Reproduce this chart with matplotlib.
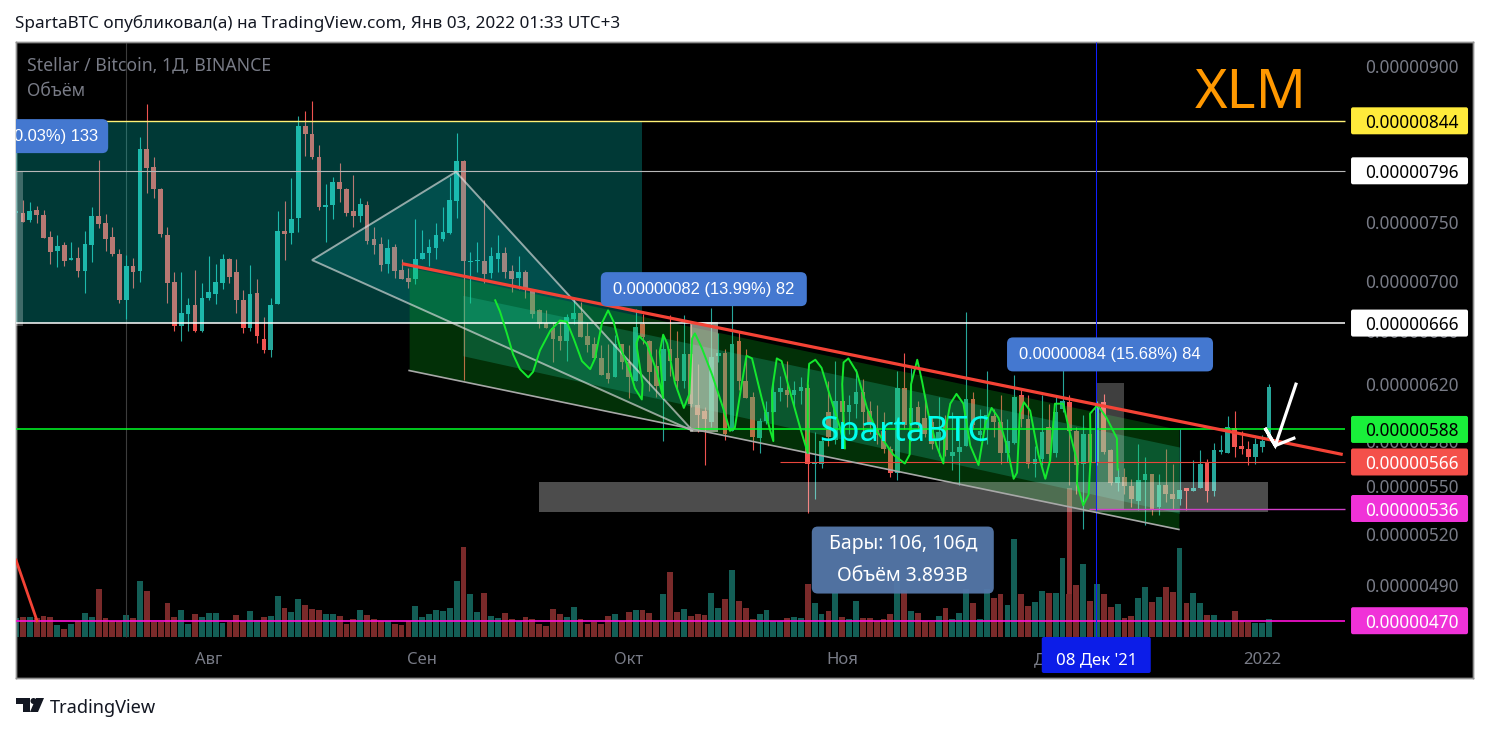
import matplotlib
matplotlib.use("Agg")
import matplotlib.pyplot as plt
from matplotlib.patches import FancyBboxPatch, Polygon, Circle
from matplotlib.transforms import IdentityTransform

plt.rcParams['font.family'] = ['Noto Sans', 'DejaVu Sans']

# candles, prices in satoshi (1e-8 BTC), one bar per day starting 4 Jul 2021
opens = [758, 758, 751, 760, 756, 737, 725, 730, 717, 719, 708, 730, 755, 749, 737, 722, 684, 712, 708, 817,
         800, 779, 738, 699, 664, 673, 680, 660, 686, 689, 698, 718, 707, 684, 662, 690, 654, 645, 681, 742,
         740, 753, 839, 831, 809, 763, 765, 786, 779, 759, 755, 765, 735, 731, 714, 728, 709, 702, 701, 718,
         723, 727, 735, 740, 768, 805, 715, 716, 716, 706, 718, 723, 708, 702, 707, 692, 676, 666, 662, 656,
         652, 669, 674, 656, 650, 639, 628, 625, 650, 636, 622, 665, 652, 633, 622, 646, 639, 622, 642, 605,
         601, 593, 641, 643, 587, 652, 622, 611, 582, 594, 600, 614, 616, 612, 615, 617, 565, 565, 600, 581,
         608, 600, 606, 614, 601, 588, 587, 575, 559, 617, 592, 604, 596, 593, 581, 593, 570, 573, 577, 609,
         584, 588, 597, 593, 572, 579, 612, 595, 565, 568, 590, 572, 602, 607, 587, 565, 585, 566, 607, 574,
         552, 556, 550, 541, 554, 558, 537, 551, 545, 542, 549, 547, 549, 566, 547, 573, 572, 589, 577, 575,
         569, 576, 581]
highs = [767, 769, 767, 764, 760, 742, 738, 732, 732, 728, 742, 763, 806, 757, 745, 726, 721, 719, 828, 861,
         809, 780, 745, 707, 707, 686, 709, 698, 720, 714, 722, 719, 718, 692, 713, 701, 671, 686, 759, 768,
         789, 849, 854, 864, 820, 784, 790, 803, 780, 792, 771, 768, 745, 737, 735, 731, 718, 710, 752, 743,
         735, 749, 763, 790, 832, 806, 724, 732, 769, 728, 738, 728, 713, 720, 709, 692, 677, 676, 667, 667,
         673, 686, 683, 667, 655, 649, 650, 657, 650, 649, 677, 673, 653, 646, 655, 672, 660, 672, 665, 635,
         604, 678, 658, 646, 687, 660, 646, 614, 596, 608, 625, 626, 637, 622, 625, 620, 586, 582, 622, 637,
         620, 612, 631, 624, 608, 605, 600, 577, 630, 643, 632, 608, 612, 597, 611, 598, 600, 596, 675, 614,
         602, 630, 602, 612, 595, 627, 617, 612, 577, 612, 606, 612, 645, 612, 590, 598, 598, 608, 613, 575,
         562, 562, 555, 578, 569, 558, 558, 575, 565, 588, 549, 567, 574, 568, 579, 584, 597, 601, 587, 580,
         582, 584, 620]
lows = [749, 750, 750, 749, 736, 714, 711, 712, 717, 703, 690, 715, 744, 725, 720, 682, 669, 694, 699, 776,
        771, 737, 682, 660, 652, 660, 659, 659, 684, 681, 693, 698, 674, 658, 660, 651, 643, 640, 681, 717,
        731, 741, 810, 807, 760, 732, 752, 767, 755, 745, 750, 731, 722, 708, 706, 702, 701, 694, 697, 718,
        712, 718, 733, 739, 753, 623, 682, 707, 698, 702, 707, 702, 691, 693, 686, 670, 662, 662, 636, 645,
        637, 665, 655, 644, 639, 627, 621, 625, 631, 610, 622, 650, 615, 611, 580, 626, 615, 617, 604, 586,
        564, 590, 636, 581, 587, 616, 610, 574, 572, 592, 600, 608, 604, 604, 606, 533, 542, 562, 577, 578,
        578, 585, 596, 587, 585, 578, 572, 556, 554, 588, 580, 587, 583, 575, 570, 570, 561, 551, 577, 588,
        580, 578, 583, 565, 566, 578, 590, 562, 556, 564, 567, 569, 600, 551, 545, 523, 564, 564, 571, 551,
        547, 545, 537, 535, 526, 532, 532, 540, 536, 538, 535, 547, 549, 540, 544, 571, 572, 569, 571, 564,
        565, 573, 581]
closes = [759, 750, 759, 756, 736, 724, 729, 716, 719, 708, 731, 755, 748, 735, 722, 684, 712, 707, 817, 799,
          779, 739, 698, 664, 674, 680, 660, 686, 691, 699, 718, 703, 684, 662, 689, 656, 645, 680, 742, 739,
          752, 839, 831, 809, 763, 765, 786, 779, 758, 755, 766, 733, 730, 713, 727, 708, 701, 699, 718, 723,
          728, 738, 741, 769, 805, 716, 716, 717, 705, 720, 723, 707, 701, 707, 692, 673, 665, 662, 654, 652,
          671, 674, 655, 649, 639, 627, 624, 650, 636, 625, 663, 655, 629, 619, 646, 637, 622, 642, 606, 598,
          595, 640, 643, 585, 650, 622, 610, 583, 594, 600, 614, 617, 612, 616, 618, 565, 566, 580, 583, 608,
          600, 605, 614, 600, 591, 584, 575, 559, 617, 591, 603, 591, 585, 578, 586, 574, 573, 576, 609, 591,
          587, 598, 593, 572, 580, 611, 595, 565, 568, 586, 571, 600, 608, 587, 564, 585, 566, 606, 573, 552,
          556, 550, 542, 554, 558, 536, 551, 545, 542, 548, 547, 549, 565, 547, 574, 574, 590, 576, 575, 569,
          578, 580, 618]
volumes = [19, 20, 20, 19, 21, 20, 12, 8, 13, 16, 24, 20, 48, 19, 16, 16, 22, 19, 56, 46,
           15, 15, 34, 20, 27, 13, 23, 20, 24, 24, 14, 15, 22, 16, 26, 17, 20, 21, 41, 29,
           25, 38, 32, 28, 27, 23, 23, 21, 13, 18, 27, 22, 18, 16, 16, 13, 12, 16, 31, 20,
           23, 27, 26, 29, 56, 90, 43, 25, 44, 21, 19, 24, 18, 16, 20, 18, 13, 11, 28, 23,
           20, 30, 18, 13, 15, 13, 21, 23, 16, 25, 27, 27, 24, 16, 43, 65, 25, 28, 21, 23,
           22, 44, 29, 38, 67, 36, 29, 18, 23, 27, 16, 16, 19, 20, 19, 53, 34, 23, 26, 44,
           20, 18, 36, 19, 19, 16, 18, 23, 57, 47, 26, 24, 16, 15, 21, 29, 18, 24, 48, 34,
           18, 48, 39, 43, 32, 98, 43, 31, 35, 46, 44, 44, 79, 43, 52, 73, 36, 53, 43, 30,
           33, 19, 21, 39, 50, 35, 40, 50, 45, 89, 34, 44, 34, 22, 22, 16, 16, 26, 16, 15,
           14, 14, 18]
volume_dirs = ("trtrrrtrtr" "ttrrrrtrtr" "rrrrttrttt" "trrrttrttr" "ttrrrttrrr"
               "trrrtrrrtt" "tttttrttrt" "trrtrrrrrr" "ttrrrrrtrr" "trrrtrrtrr"
               "rttrtrrrtt" "ttrttrttrt" "rttrrrrrtr" "trrrtrtttr" "ttrrttrrtt"
               "rttrrtrtrr" "trrttrtrrt" "rttrtttrrr" "ttt")

# indicator brush drawn over the channel: bar position, price
wave_x = [69.6, 70.3, 71.3, 72.2, 73.2, 74.4, 75.1, 76.1, 77.6, 79.0, 80.0, 81.0, 82.2, 83.4, 84.1, 85.1, 86.0, 86.8,
          87.7, 89.2, 89.9, 90.9, 91.0, 90.1, 90.5, 91.6, 93.1, 94.0, 93.5, 94.0, 94.6, 95.7, 97.0, 97.8, 98.2, 98.6,
          99.6, 101.1, 102.7, 103.7, 104.4, 105.4, 106.1, 106.9, 108.3, 109.5, 110.0, 109.8, 110.5, 111.2, 112.4,
          113.9, 115.0, 115.0, 115.2, 116.1, 117.0, 118.2, 119.7, 120.4, 120.0, 120.2, 120.9, 122.1, 123.6, 125.0,
          126.5, 127.4, 129.1, 129.8, 130.0, 130.9, 131.6, 132.5, 133.7, 134.7, 134.9, 135.7, 136.6, 137.6, 138.6,
          139.8, 140.8, 141.7, 142.7, 143.9, 144.9, 145.4, 145.8, 146.4, 147.3, 148.5, 149.5, 150.2, 150.9, 152.1,
          152.9, 154.2, 154.1, 155.0, 155.8, 156.1, 156.0, 157.1, 158.4, 159.9, 160.0]
wave_p = [684, 675, 658, 642, 631, 625, 629, 645, 660, 668, 667, 654, 637, 631, 639, 666, 676, 667,
          648, 629, 617, 609, 620, 650, 656, 650, 629, 610, 644, 657, 650, 621, 603, 613, 654, 658,
          647, 627, 603, 587, 589, 620, 641, 639, 610, 588, 580, 615, 639, 637, 615,
          589, 572, 620, 635, 638, 632, 612, 589, 575, 620, 636, 639, 629, 603, 587,
          577, 571, 565, 571, 620, 638, 622, 599, 577, 565, 585, 606, 613, 606, 577,
          564, 592, 603, 596, 577, 555, 559, 599, 607, 601, 571, 555, 567, 606, 606,
          589, 565, 552, 538, 545, 571, 599, 605, 596, 582, 561]

# horizontal levels: price, first bar, colour, width
level_prices = [844, 796, 666, 588, 566, 536, 470]
level_starts = [-1, -1, -1, -1, 111, 155.8, -1]
level_colors = ['#fff176', '#b8b8b8', '#ffffff', '#00ff26', '#e8463c', '#d040c8', '#ff10d8']
level_widths = [1.0, 0.8, 1.1, 1.1, 0.8, 1.0, 1.2]
label_faces = ['#ffeb3b', '#ffffff', '#ffffff', '#19f03a', '#f4504a', '#f032d8', '#f032d8']
label_texts = ['black', 'black', 'black', 'black', 'white', 'white', 'white']

scale_ticks = [900, 750, 700, 660, 620, 580, 550, 520, 490]
month_pos = [28, 59, 89, 120, 150, 181]
month_names = ['Авг', 'Сен', 'Окт', 'Ноя', 'Дек', '2022']

# geometry of the drawings, in bar position and price
trend_x, trend_p = [56.06, 192.7], [714, 571]
corner_x, corner_p = [0, 3.05], [504.6, 470]
box_x, box_p = [-1, 90.9], [844, 666]
triangle_x, triangle_p = [43.0, 63.9, 98.3], [717, 795, 587]
channel_x, channel_top, channel_bot = [57.1, 168.9], [711, 588], [630, 523]
band_x, band_top, band_bot = [64.9, 169.0], [688, 576], [641, 533]
arrow_x, arrow_p = [185.9, 182.9, 181.4, 182.9, 185.6], [620, 577, 589, 577, 582]

PX_STEP = 6.885
LEFT, RIGHT, TOP, BOTTOM = 16, 1473, 42, 678
W, H = 1489, 732
UP, DOWN = '#26a69a', '#ef5350'

fig = plt.figure(figsize=(W / 100, H / 100), dpi=100, facecolor='white')
pos = [LEFT / W, 1 - BOTTOM / H, (RIGHT - LEFT) / W, (BOTTOM - TOP) / H]
vol_ax = fig.add_axes(pos, zorder=0, facecolor='black')
ax = fig.add_axes(pos, zorder=1)
ax.patch.set_visible(False)

bars = range(len(closes))
xlim = (0, (RIGHT - LEFT) / PX_STEP)

# volume, one unit is about one pixel here
vol_colors = ['#135e56' if d == 't' else '#7a2a2a' for d in volume_dirs]
vol_ax.bar(list(bars), volumes, width=0.85, color=vol_colors)
vol_ax.set_xlim(xlim)
vol_ax.set_ylim(-41, 595)
vol_ax.set_xticks([])
vol_ax.set_yticks([])

ax.set_yscale('log')
ax.set_xlim(xlim)
ax.set_ylim(439.5, 925.6)
ax.set_xticks([])
ax.minorticks_off()
ax.tick_params(which='both', left=False, labelleft=False, bottom=False, labelbottom=False)
ax.set_yticks([])
for a in (ax, vol_ax):
    for s in a.spines.values():
        s.set_color('#8f8f8f')
        s.set_linewidth(1)

# candles
for i in bars:
    c = UP if closes[i] >= opens[i] else DOWN
    ax.vlines(i, lows[i], highs[i], color=c, lw=0.8, zorder=2)
    lo, hi = min(opens[i], closes[i]), max(opens[i], closes[i])
    ax.bar(i, max(hi - lo, 1), bottom=lo, width=0.68, color=c, zorder=2, log=False)
ax.bar(153, 549 - 485, bottom=485, width=0.68, color='#8c2e30', zorder=2)

# drawings on top of the candles
ax.fill_between(box_x, box_p[1], box_p[0], color=(0, 0.98, 0.92), alpha=0.23, lw=0, zorder=3)
ax.add_patch(Polygon(list(zip(triangle_x, triangle_p)), closed=True, fc=(0.05, 0.8, 0.8), ec='none', alpha=0.15, zorder=3.1))
ax.add_patch(Polygon(list(zip(triangle_x, triangle_p)), closed=True, fc='none', ec=(0.88, 0.88, 0.88, 0.65), lw=1.4, zorder=5))
ax.fill_between(channel_x, channel_bot, channel_top, color=(0.04, 0.8, 0.12), alpha=0.24, lw=0, zorder=3.2)
ax.fill_between(band_x, band_bot, band_top, color=(0.14, 0.8, 0.64), alpha=0.25, lw=0, zorder=3.3)
ax.plot(channel_x, channel_bot, color='#a8a8a8', lw=1.2, zorder=5)

ax.fill_between([76.0, 181.8], 534, 553, color='white', alpha=0.3, lw=0, zorder=3.4)
ax.fill_between([-1, 0.95], 664, 796, color='white', alpha=0.25, lw=0, zorder=3.4)
ax.fill_between([97.9, 102.0], 586, 667, color='#e0e0d0', alpha=0.6, lw=0, zorder=3.4)
ax.fill_between([156.9, 161.0], 536, 621, color='white', alpha=0.25, lw=0, zorder=3.4)

for p, st, c, lw in zip(level_prices, level_starts, level_colors, level_widths):
    ax.hlines(p, st, 193.0, color=c, lw=lw, zorder=4)
ax.vlines(16, 461, 925.6, color='#3c3c3c', lw=0.8, zorder=1.5)
ax.vlines(156.9, 461, 925.6, color='#1020ff', lw=0.75, zorder=4.5).set_snap(True)

ax.plot(wave_x, wave_p, color='#14e82e', lw=1.4, zorder=5.5)
ax.plot(trend_x, trend_p, color='#f44336', lw=2.3, zorder=5.6, solid_capstyle='butt')
ax.plot(corner_x, corner_p, color='#f44336', lw=2.0, zorder=5.6)
ax.plot(arrow_x, arrow_p, color='white', lw=2.3, zorder=5.7, solid_joinstyle='miter')


def label_box(idx, price, w, h, color, alpha=1.0, r=4):
    cx, cy = ax.transData.transform((idx, price))
    ax.add_patch(FancyBboxPatch((cx - w / 2 + r, cy - h / 2 + r), w - 2 * r, h - 2 * r,
                                boxstyle=f"round,pad={r},rounding_size={r}",
                                transform=IdentityTransform(), fc=color, ec='none',
                                alpha=alpha, zorder=8))


def sats(p):
    return f"{p / 1e8:.8f}"


SCALE_X = 202.7
BOX_X = 202.4
for p in scale_ticks:
    ax.text(SCALE_X, p, sats(p), color='#787b86', fontsize=12.4, ha='center', va='center_baseline', zorder=6)
for p, face, tc in zip(level_prices, label_faces, label_texts):
    label_box(BOX_X, p, 117, 27, face, r=2)
    ax.text(SCALE_X, p, sats(p), color=tc, fontsize=12.4, ha='center', va='center_baseline', zorder=9,
            weight='bold' if tc == 'white' else 'normal')

for x, name in zip(month_pos, month_names):
    ax.text(x, 449, name, color='#787b86', fontsize=12, ha='center', va='center', zorder=6)
label_box(156.9, 451.5, 109, 36, '#0c1de8', r=2)
ax.text(156.9, 449, "08 Дек '21", color='white', fontsize=12.1, ha='center', va='center', zorder=9)

# ruler labels
label_box(99.9, 693, 206, 34, '#4478d0', r=6)
ax.text(99.9, 693, '0.00000082 (13.99%) 82', color='white', fontsize=11.85, family='Liberation Sans',
        ha='center', va='center', zorder=9)
label_box(158.9, 642, 206, 34, '#4478d0', r=6)
ax.text(158.9, 642, '0.00000084 (15.68%) 84', color='white', fontsize=11.85, family='Liberation Sans',
        ha='center', va='center', zorder=9)
label_box(-2.3, 829, 216, 34, '#4478d0', r=6)
ax.text(11.9, 829, '0.00000133 (20.03%) 133', color='white', fontsize=11.85, family='Liberation Sans',
        ha='right', va='center', zorder=9, clip_on=True)
label_box(128.8, 504.6, 182, 67, '#5578aa', alpha=0.95, r=6)
ax.text(128.8, 514, 'Бары: 106, 106д', color='white', fontsize=14, ha='center', va='center', zorder=9)
ax.text(128.8, 495, 'Объём 3.893B', color='white', fontsize=14, ha='center', va='center', zorder=9)

ax.text(179.3, 871, 'XLM', color='#ff9800', fontsize=40, ha='center', va='center', zorder=9)
ax.text(129, 586, 'SpartaBTC', color='#00ffee', fontsize=25, ha='center', va='center', zorder=7)

# text outside the plot and the legend line
fig.text(15 / W, 1 - 23 / H, 'SpartaBTC опубликовал(а) на TradingView.com, Янв 03, 2022 01:33 UTC+3',
         color='#131722', fontsize=12.35, va='center')
fig.text(27 / W, 1 - 65 / H, 'Stellar / Bitcoin, 1Д, BINANCE', color='#787b86', fontsize=12.7, va='center', zorder=5)
fig.text(27 / W, 1 - 91 / H, 'Объём', color='#787b86', fontsize=12.7, va='center', zorder=5)
fig.text(50 / W, 1 - 708 / H, 'TradingView', color='#131722', fontsize=13.1, va='center')

# logo, in pixels
logo_t = [(16, 698), (30, 698), (30, 712), (23, 712), (23, 704), (16, 704)]
logo_s = [(36, 698), (44, 698), (38, 712), (30, 712)]
for shape in (logo_t, logo_s):
    fig.add_artist(Polygon([(x, H - y) for x, y in shape], closed=True, fc='#131722', ec='none',
                           transform=IdentityTransform()))
fig.add_artist(Circle((33.5, H - 701), 3, fc='#131722', ec='none', transform=IdentityTransform()))

fig.savefig('out.png', dpi=100)
